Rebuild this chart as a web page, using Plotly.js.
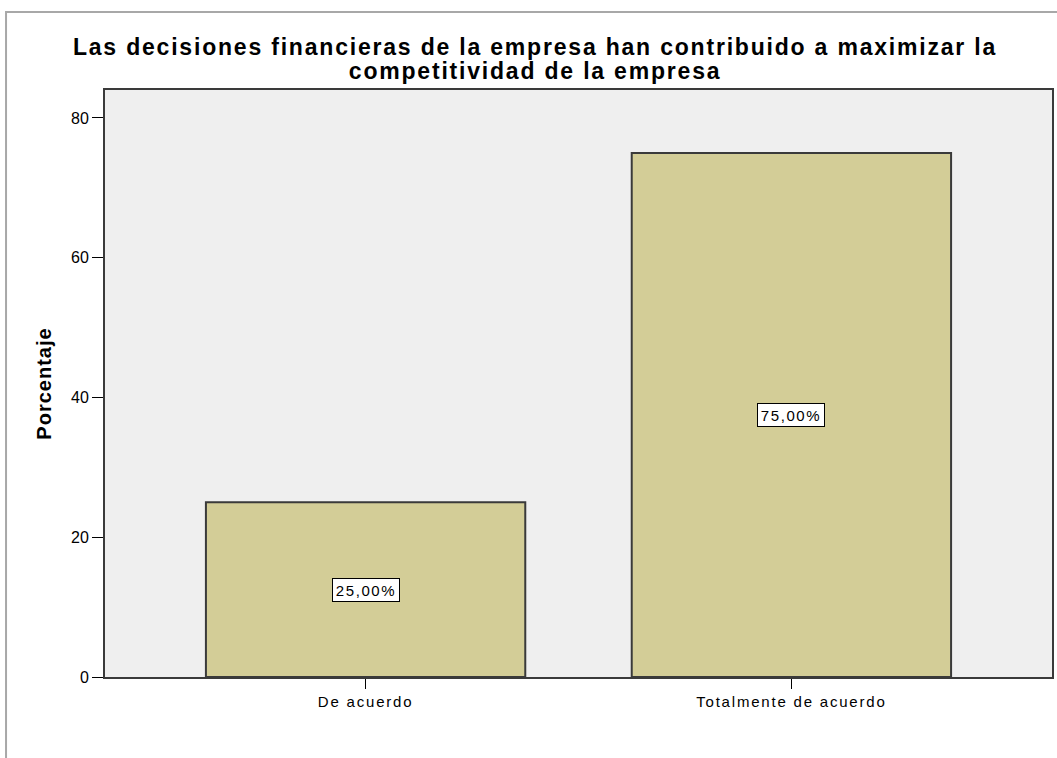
<!DOCTYPE html>
<html>
<head>
<meta charset="utf-8">
<script src="https://cdn.plot.ly/plotly-3.0.1.min.js"></script>
<style>
html,body{margin:0;padding:0;background:#fff}
#chart{width:1057px;height:758px}
#chart text.gtitle{letter-spacing:1.8px}
#chart text.annotation-text{letter-spacing:1.6px}
#chart g.title2 text{letter-spacing:1.8px}
#chart .xtick text{letter-spacing:1.8px}
#chart text.ytitle{letter-spacing:1px}
</style>
</head>
<body>
<div id="chart"></div>
<script>
const categories = ["De acuerdo", "Totalmente de acuerdo"];
const percentages = [25, 75];
const labelTexts = ["25,00%", "75,00%"];
const yTicks = [0, 20, 40, 60, 80];
const titleLines = ["Las decisiones financieras de la empresa han contribuido a maximizar la", "competitividad de la empresa"];

const FONT = "Arial, 'Liberation Sans', sans-serif";

const trace = {
  type: "bar",
  x: categories,
  y: percentages,
  width: 0.75,
  marker: {color: "#d3cd97", line: {color: "#3a3a3a", width: 2}},
  hoverinfo: "none"
};

const annotations = categories.map((c, i) => ({
  x: c, y: percentages[i] / 2, xref: "x", yref: "y",
  text: labelTexts[i], showarrow: false,
  width: 64, height: 20,
  font: {family: FONT, size: 15, color: "#000"},
  bgcolor: "#ffffff", bordercolor: "#000000", borderwidth: 1, borderpad: 1
}));

annotations.push({
  xref: "paper", yref: "paper",
  x: (535 - 105) / 947, y: (677 - 71) / 587,
  xanchor: "center", yanchor: "middle",
  text: "<b>" + titleLines[1] + "</b>", showarrow: false,
  font: {family: FONT, size: 23, color: "#000"}
});

const layout = {
  width: 1057, height: 758,
  margin: {l: 105, r: 5, t: 90, b: 81},
  paper_bgcolor: "#ffffff",
  plot_bgcolor: "#efefef",
  showlegend: false,
  bargap: 0,
  title: {
    text: "<b>" + titleLines[0] + "</b>",
    font: {family: FONT, size: 23, color: "#000"},
    xref: "container", x: 535 / 1057, xanchor: "center",
    yref: "container", y: 1 - 47 / 758, yanchor: "middle"
  },
  xaxis: {
    type: "category",
    range: [-0.612, 1.612],
    showline: true, mirror: true, linecolor: "#3a3a3a", linewidth: 2,
    ticks: "outside", ticklen: 10, tickcolor: "#000", tickwidth: 1,
    showgrid: false, zeroline: false,
    tickfont: {family: FONT, size: 15, color: "#000"}
  },
  yaxis: {
    range: [0, 84],
    tickvals: yTicks,
    ticktext: yTicks.map(String),
    showline: true, mirror: true, linecolor: "#3a3a3a", linewidth: 2,
    ticks: "outside", ticklen: 11, tickcolor: "#000", tickwidth: 1,
    showgrid: false, zeroline: false,
    tickfont: {family: FONT, size: 16, color: "#000"},
    title: {text: "<b>Porcentaje</b>", font: {family: FONT, size: 20, color: "#000"}, standoff: 14}
  },
  annotations: annotations,
  shapes: [{
    type: "path", xref: "paper", yref: "paper",
    path: "M -0.1045,-0.2 L -0.1045,1.1329 L 1.1,1.1329",
    line: {color: "#a8a8a8", width: 2}
  }]
};

Plotly.newPlot("chart", [trace], layout, {displayModeBar: false, staticPlot: true}).then(() => {
  const anns = document.querySelectorAll("#chart g.annotation");
  const last = anns[anns.length - 1];
  if (last) last.classList.add("title2");
});
</script>
</body>
</html>
